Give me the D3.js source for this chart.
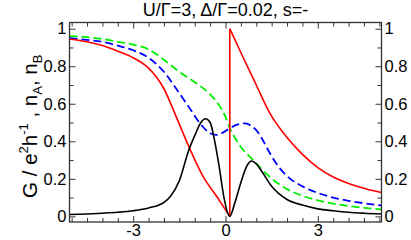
<!DOCTYPE html>
<html><head><meta charset="utf-8">
<script src="https://cdn.jsdelivr.net/npm/d3@7"></script>
<style>body{margin:0;background:#fff}svg{display:block}text{font-family:"Liberation Sans",Arial,sans-serif}</style>
</head><body><div id="chart"></div>
<script>
const titleText = "U/Γ=3, Δ/Γ=0.02, s=-";
const xTickValues = [-3, 0, 3];
const xTickLabels = ["-3", "0", "3"];
const yTickValues = [0, 0.2, 0.4, 0.6, 0.8, 1];
const yTickLabels = ["0", "0.2", "0.4", "0.6", "0.8", "1"];

// black: G
const blackX = [-5.07,-4.5,-4,-3.5,-3,-2.5,-2,-1.8,-1.5,-1.2,-1,-0.8,-0.65,-0.5,-0.35,-0.2,-0.05,0.14,0.3,0.5,0.7,0.85,1.0,1.2,1.5,2.0,2.5,3,3.5,4,4.5,5.07];
const blackY = [0.01,0.013,0.017,0.022,0.03,0.045,0.075,0.105,0.19,0.35,0.43,0.5,0.52,0.5,0.4,0.26,0.1,0.0,0.07,0.18,0.27,0.295,0.28,0.235,0.16,0.09,0.06,0.04,0.03,0.022,0.017,0.013];
// red: left branch and right branch
const redLX = [-5.07,-4.5,-4,-3.5,-3,-2.5,-2,-1.6,-1.16,-0.73,-0.29,0.14];
const redLY = [0.945,0.93,0.91,0.88,0.845,0.79,0.68,0.53,0.36,0.213,0.107,0.0];
const redRX = [0.14,0.57,1.0,1.44,2.0,2.5,3,3.5,4,4.5,5.07];
const redRY = [1.0,0.848,0.70,0.55,0.42,0.33,0.26,0.21,0.175,0.15,0.127];
// green dashed
const greenX = [-5.07,-4.5,-4,-3.5,-3,-2.5,-2,-1.5,-1,-0.5,-0.2,0,0.14,0.3,0.5,0.9,1.44,2,2.5,3,3.5,4,4.5,5.07];
const greenY = [0.96,0.955,0.945,0.93,0.915,0.89,0.835,0.77,0.715,0.65,0.59,0.53,0.47,0.42,0.37,0.30,0.21,0.145,0.11,0.085,0.068,0.055,0.045,0.037];
// blue dashed
const blueX = [-5.07,-4.5,-4,-3.5,-3,-2.5,-2,-1.6,-1.16,-0.83,-0.5,-0.3,-0.1,0.14,0.4,0.65,0.85,1.0,1.2,1.44,1.7,2,2.5,3,3.5,4,4.5,5.07];
const blueY = [0.95,0.94,0.93,0.91,0.885,0.845,0.77,0.68,0.575,0.496,0.443,0.434,0.445,0.47,0.49,0.496,0.48,0.46,0.41,0.337,0.27,0.215,0.16,0.125,0.1,0.083,0.07,0.058];

const W = 411, H = 240;
const L = 69.5, R = 381.5, T = 22.5, B = 222;
const svg = d3.select("#chart").append("svg").attr("width", W).attr("height", H);

const x = d3.scaleLinear().domain([-5.07, 5.07]).range([L, R]);
const y = d3.scaleLinear().domain([-0.03, 1.033]).range([B, T]);

svg.append("clipPath").attr("id","c").append("rect")
  .attr("x", L).attr("y", T).attr("width", R-L).attr("height", B-T);

const line = d3.line().x(d=>x(d[0])).y(d=>y(d[1])).curve(d3.curveMonotoneX);
const zip = (a,b)=>a.map((v,i)=>[v,b[i]]);
const plot = svg.append("g").attr("clip-path","url(#c)");

plot.append("path").datum(zip(greenX,greenY)).attr("d",line)
  .attr("fill","none").attr("stroke","#00ee00").attr("stroke-width",1.8).attr("stroke-dasharray","8,4");
plot.append("path").datum(zip(blueX,blueY)).attr("d",line)
  .attr("fill","none").attr("stroke","#0000ff").attr("stroke-width",1.8).attr("stroke-dasharray","8,4");
plot.append("path").datum(zip(redLX,redLY)).attr("d",line)
  .attr("fill","none").attr("stroke","#ff0000").attr("stroke-width",1.6);
plot.append("path").datum([[redLX[redLX.length-1], redLY[redLY.length-1]],[redRX[0], redRY[0]]]).attr("d",d3.line().x(d=>x(d[0])).y(d=>y(d[1])))
  .attr("fill","none").attr("stroke","#ff0000").attr("stroke-width",1.6);
plot.append("path").datum(zip(redRX,redRY)).attr("d",line)
  .attr("fill","none").attr("stroke","#ff0000").attr("stroke-width",1.6);
plot.append("path").datum(zip(blackX,blackY)).attr("d",line)
  .attr("fill","none").attr("stroke","#000").attr("stroke-width",1.6);

// axes
const fs = 16.5;
const minorX = d3.range(-5, 5.01, 0.5).filter(v=>!xTickValues.includes(v));
const minorY = d3.range(0, 1.01, 0.1).map(v=>+v.toFixed(1)).filter(v=>!yTickValues.includes(v));
function styleAxis(sel){
  sel.select(".domain").remove();
  sel.selectAll("line").attr("stroke","#333").attr("stroke-width",1);
  sel.selectAll("text").attr("font-size",fs).attr("fill","#000");
}
const xfmt = d => xTickLabels[xTickValues.indexOf(d)];
const yfmt = d => yTickLabels[yTickValues.indexOf(d)];
svg.append("g").attr("transform",`translate(0,${B})`)
  .call(d3.axisBottom(x).tickValues(xTickValues).tickSize(-6).tickPadding(2).tickFormat(xfmt)).call(styleAxis);
svg.append("g").attr("transform",`translate(0,${B})`)
  .call(d3.axisBottom(x).tickValues(minorX).tickSize(-4).tickFormat("")).call(styleAxis);
svg.append("g").attr("transform",`translate(0,${T})`)
  .call(d3.axisTop(x).tickValues(xTickValues).tickSize(-6).tickFormat("")).call(styleAxis);
svg.append("g").attr("transform",`translate(0,${T})`)
  .call(d3.axisTop(x).tickValues(minorX).tickSize(-4).tickFormat("")).call(styleAxis);
svg.append("g").attr("transform",`translate(${L},0)`)
  .call(d3.axisLeft(y).tickValues(yTickValues).tickSize(-6).tickPadding(3).tickFormat(yfmt)).call(styleAxis);
svg.append("g").attr("transform",`translate(${L},0)`)
  .call(d3.axisLeft(y).tickValues(minorY).tickSize(-4).tickFormat("")).call(styleAxis);
svg.append("g").attr("transform",`translate(${R},0)`)
  .call(d3.axisRight(y).tickValues(yTickValues).tickSize(-6).tickPadding(3).tickFormat(yfmt)).call(styleAxis);
svg.append("g").attr("transform",`translate(${R},0)`)
  .call(d3.axisRight(y).tickValues(minorY).tickSize(-4).tickFormat("")).call(styleAxis);

svg.append("rect").attr("x",L).attr("y",T).attr("width",R-L).attr("height",B-T)
  .attr("fill","none").attr("stroke","#333").attr("stroke-width",1.3);

svg.append("text").attr("x",(L+R)/2).attr("y",16).attr("text-anchor","middle")
  .attr("font-size",18).text(titleText);

const yl = svg.append("text").attr("transform",`translate(37,${(T+B)/2+4}) rotate(-90)`)
  .attr("text-anchor","middle").attr("font-size",20.5);
yl.append("tspan").text("G / e");
yl.append("tspan").attr("font-size",13).attr("dy",-9).text("2");
yl.append("tspan").attr("dy",9).text("h");
yl.append("tspan").attr("font-size",13).attr("dy",-9).text("-1");
yl.append("tspan").attr("dy",9).text(" , n");
yl.append("tspan").attr("font-size",13).attr("dy",5).text("A");
yl.append("tspan").attr("dy",-5).text(", n");
yl.append("tspan").attr("font-size",13).attr("dy",5).text("B");
</script></body></html>
